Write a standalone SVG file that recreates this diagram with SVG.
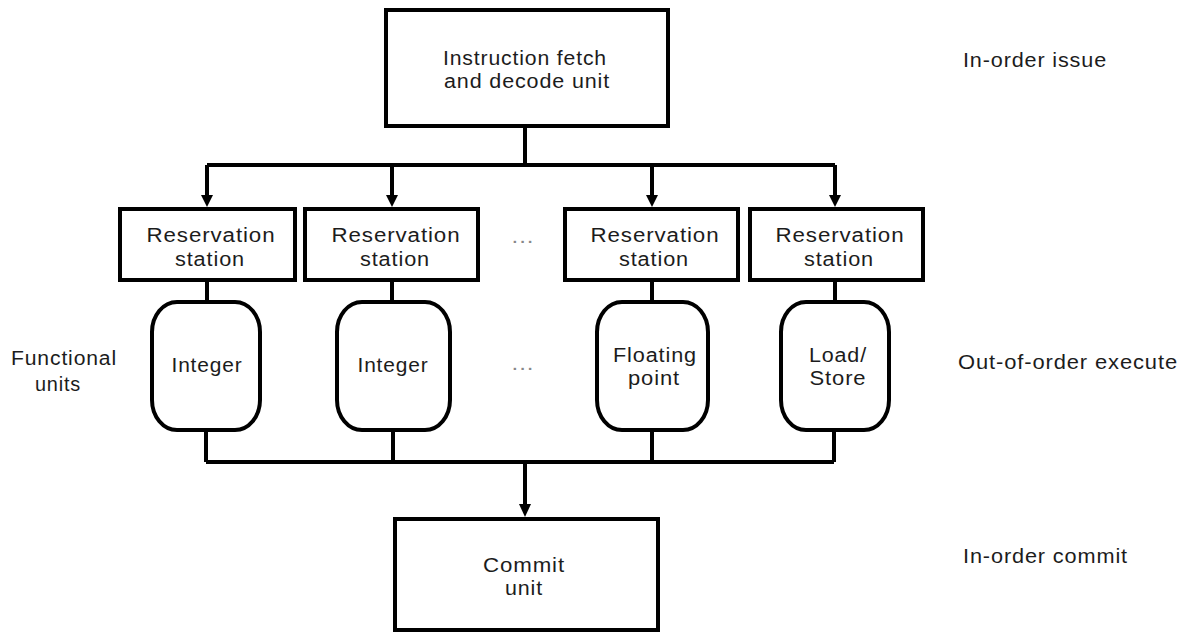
<svg xmlns="http://www.w3.org/2000/svg" width="1186" height="635" viewBox="0 0 1186 635">
<style>
.box{fill:#fff;stroke:#000;stroke-width:4}
.ln{fill:none;stroke:#000;stroke-width:4}
.ah{fill:#000}
text{font-family:"Liberation Sans",Arial,sans-serif;font-size:20px;fill:#1c1c1c;letter-spacing:0.8px}
.c{text-anchor:middle}
.dots{fill:#888}
</style>
<rect width="1186" height="635" fill="#fff"/>
<g id="connectors">
<path class="ln" d="M525 128V165M207 165H835M207 165V196M392 165V196M652 165V196M835 165V196"/>
<polygon class="ah" points="201,195 213,195 207,207"/>
<polygon class="ah" points="386,195 398,195 392,207"/>
<polygon class="ah" points="646,195 658,195 652,207"/>
<polygon class="ah" points="829,195 841,195 835,207"/>
<path class="ln" d="M207 282V300M392 282V300M652 282V300M835 282V300"/>
<path class="ln" d="M206 432V462M393 432V462M652 432V462M834 432V462M206 462H834M525 462V506"/>
<polygon class="ah" points="519,504 531,504 525,517"/>
</g>
<g id="fetch">
<rect class="box" x="386" y="10" width="282" height="116"/>
<text class="c" x="525" y="65" textLength="164" lengthAdjust="spacingAndGlyphs">Instruction fetch</text>
<text class="c" x="527" y="88" textLength="166" lengthAdjust="spacingAndGlyphs">and decode unit</text>
</g>
<g id="rs1">
<rect class="box" x="120" y="209" width="175" height="71"/>
<text class="c" x="211" y="242" textLength="129" lengthAdjust="spacingAndGlyphs">Reservation</text>
<text class="c" x="210" y="266" textLength="70" lengthAdjust="spacingAndGlyphs">station</text>
</g>
<g id="rs2">
<rect class="box" x="305" y="209" width="173" height="71"/>
<text class="c" x="396" y="242" textLength="129" lengthAdjust="spacingAndGlyphs">Reservation</text>
<text class="c" x="395" y="266" textLength="70" lengthAdjust="spacingAndGlyphs">station</text>
</g>
<g id="rs3">
<rect class="box" x="565" y="209" width="173" height="71"/>
<text class="c" x="655" y="242" textLength="129" lengthAdjust="spacingAndGlyphs">Reservation</text>
<text class="c" x="654" y="266" textLength="70" lengthAdjust="spacingAndGlyphs">station</text>
</g>
<g id="rs4">
<rect class="box" x="750" y="209" width="173" height="71"/>
<text class="c" x="840" y="242" textLength="129" lengthAdjust="spacingAndGlyphs">Reservation</text>
<text class="c" x="839" y="266" textLength="70" lengthAdjust="spacingAndGlyphs">station</text>
</g>
<g id="fu1">
<rect class="box" x="152" y="302" width="108" height="128" rx="25" ry="30"/>
<text class="c" x="207" y="372" textLength="71" lengthAdjust="spacingAndGlyphs">Integer</text>
</g>
<g id="fu2">
<rect class="box" x="337" y="302" width="113" height="128" rx="25" ry="30"/>
<text class="c" x="393" y="372" textLength="71" lengthAdjust="spacingAndGlyphs">Integer</text>
</g>
<g id="fu3">
<rect class="box" x="597" y="302" width="111" height="128" rx="25" ry="30"/>
<text class="c" x="655" y="362" textLength="84" lengthAdjust="spacingAndGlyphs">Floating</text>
<text class="c" x="654" y="385" textLength="52" lengthAdjust="spacingAndGlyphs">point</text>
</g>
<g id="fu4">
<rect class="box" x="781" y="302" width="108" height="128" rx="25" ry="30"/>
<text class="c" x="838" y="362" textLength="58" lengthAdjust="spacingAndGlyphs">Load/</text>
<text class="c" x="838" y="385" textLength="57" lengthAdjust="spacingAndGlyphs">Store</text>
</g>
<g id="commit">
<rect class="box" x="395" y="519" width="263" height="111"/>
<text class="c" x="524" y="572" textLength="82" lengthAdjust="spacingAndGlyphs">Commit</text>
<text class="c" x="524" y="595" textLength="38" lengthAdjust="spacingAndGlyphs">unit</text>
</g>
<g id="labels">
<text class="c dots" x="523" y="243" textLength="23" lengthAdjust="spacingAndGlyphs">...</text>
<text class="c dots" x="523" y="370" textLength="23" lengthAdjust="spacingAndGlyphs">...</text>
<text x="963" y="67" textLength="144" lengthAdjust="spacingAndGlyphs">In-order issue</text>
<text class="c" x="64" y="365" textLength="106" lengthAdjust="spacingAndGlyphs">Functional</text>
<text class="c" x="58" y="391" textLength="46" lengthAdjust="spacingAndGlyphs">units</text>
<text x="958" y="369" textLength="220" lengthAdjust="spacingAndGlyphs">Out-of-order execute</text>
<text x="963" y="563" textLength="165" lengthAdjust="spacingAndGlyphs">In-order commit</text>
</g>
</svg>
